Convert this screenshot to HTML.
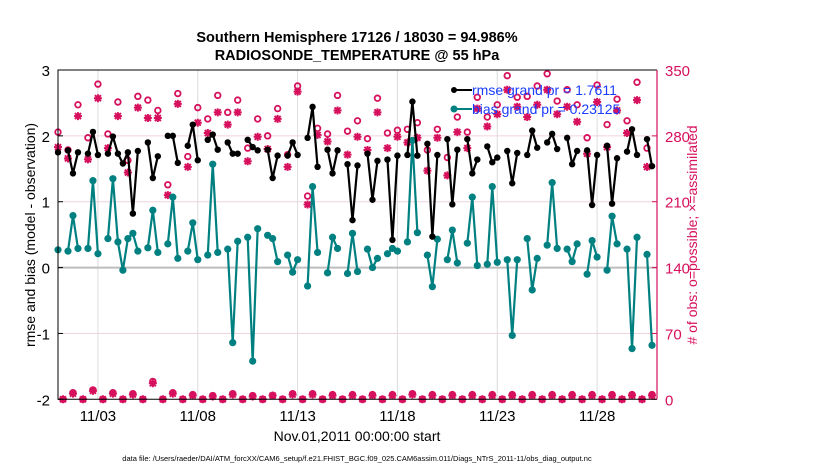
<!DOCTYPE html>
<html><head><meta charset="utf-8"><style>
body{margin:0;background:#fff;}
svg{display:block;font-family:"Liberation Sans",sans-serif;}
</style></head><body>
<svg id="chart" width="830" height="470" viewBox="0 0 830 470">
<g id="grid"></g>
<g id="marks"></g>
<g id="axes"></g>
<text x="357" y="42" text-anchor="middle" font-size="14.5" font-weight="bold">Southern Hemisphere 17126 / 18030 = 94.986%</text>
<text x="357" y="60" text-anchor="middle" font-size="14.5" font-weight="bold">RADIOSONDE_TEMPERATURE @ 55 hPa</text>
<text transform="translate(35,235) rotate(-90)" text-anchor="middle" font-size="14">rmse and bias (model - observation)</text>
<text transform="translate(697,235) rotate(-90)" text-anchor="middle" font-size="14" fill="#d6105c"># of obs: o=possible; ×=assimilated</text>
<text x="357" y="441" text-anchor="middle" font-size="14">Nov.01,2011 00:00:00 start</text>
<text x="357" y="461" text-anchor="middle" font-size="7.5">data file: /Users/raeder/DAI/ATM_forcXX/CAM6_setup/f.e21.FHIST_BGC.f09_025.CAM6assim.011/Diags_NTrS_2011-11/obs_diag_output.nc</text>
<g>
<line x1="452" y1="90" x2="472" y2="90" stroke="#000" stroke-width="2"/><circle cx="454" cy="90" r="3" fill="#000"/>
<text x="472" y="95" font-size="14" fill="#1a3cff">rmse grand pr = 1.7611</text>
<line x1="452" y1="109" x2="472" y2="109" stroke="#008080" stroke-width="2"/><circle cx="454" cy="109" r="3.5" fill="#008080"/>
<text x="472" y="114" font-size="14" fill="#1a3cff">bias grand pr = 0.23125</text>
</g>
</svg>
<script>
const N=null;
const rmse=[1.75,N,1.78,1.43,1.75,N,1.73,2.06,1.71,N,1.73,1.99,1.73,1.58,1.75,0.82,1.77,N,1.90,1.36,1.69,N,2.0,2.0,1.59,N,1.85,2.17,1.63,N,1.94,2.02,1.79,N,1.90,1.73,1.73,N,1.94,1.83,1.78,N,1.79,1.36,1.70,N,1.70,1.90,1.71,N,1.97,2.44,1.53,N,1.79,1.43,1.78,N,1.57,0.72,1.55,N,1.73,1.03,1.62,N,1.64,0.42,1.70,N,1.71,2.52,1.70,N,1.88,0.47,1.71,N,1.95,0.96,1.79,N,1.95,1.43,1.64,N,1.84,1.60,1.67,N,1.77,1.28,1.74,N,1.71,2.08,1.82,N,1.90,2.03,1.80,N,1.97,1.57,1.77,N,1.78,0.95,1.71,N,1.85,0.97,1.66,N,1.76,2.10,1.71,N,1.95,1.54];
const bias=[.27,N,.25,.79,.29,N,.29,1.32,.21,N,.44,1.35,.39,-.04,.44,.52,.25,N,.30,.87,.23,N,.36,1.07,.14,N,.25,.68,.12,N,.19,1.57,.23,N,.28,-1.14,.40,N,.46,-1.42,.59,N,.49,.44,.09,N,.19,-.07,.12,N,-.28,1.23,.23,N,-.08,.46,.29,N,-.09,.52,-.06,N,.28,0.0,.14,N,.21,.29,.25,N,.39,1.93,.53,N,.19,-.29,.43,N,.12,.57,.07,N,.37,1.07,.03,N,.05,1.23,.08,N,.12,-1.03,.12,N,.44,-.34,.14,N,.34,1.29,.29,N,.28,.09,.36,N,-.10,.41,.16,N,-.04,.78,.36,N,.28,-1.23,.46,N,.20,-1.18];
const possible=[284,0,265,7,313,0,278,10,335,0,282,7,316,0,254,6,322,0,318,19,307,0,228,7,325,0,258,5,310,0,298,4,323,0,305,6,318,0,267,4,298,0,280,4,309,0,260,6,333,0,216,6,288,0,282,5,323,0,285,5,296,0,277,5,320,0,283,5,286,0,287,6,294,0,265,5,287,0,257,5,300,0,284,5,321,0,300,5,313,0,344,5,321,0,322,5,333,0,346,5,317,0,329,5,313,0,278,5,334,0,292,5,319,0,296,5,337,0,267,5];
const assimilated=[268,0,256,6,301,0,255,9,320,0,267,6,301,0,241,5,310,0,299,17,299,0,217,6,314,0,247,4,294,0,283,3,305,0,292,5,305,0,253,3,279,0,266,4,298,0,247,5,327,0,207,5,281,0,274,4,307,0,260,4,279,0,265,4,305,0,267,4,279,0,273,5,278,0,243,4,278,0,238,4,284,0,267,4,309,0,290,4,303,0,329,4,311,0,300,4,313,0,329,4,303,0,311,4,295,0,261,4,316,0,268,4,307,0,283,4,318,0,247,4];
const leftTicks=[3,2,1,0,-1,-2];
const rightTicks=[0,70,140,210,280,350];
const dateTicks=["11/03","11/08","11/13","11/18","11/23","11/28"];
const dateTickDays=[2,7,12,17,22,27];

const X0=58,X1=657,Y0=70,Y1=399.3;
const xDay=d=>X0+(X1-X0)*d/30;
const xIdx=i=>xDay(i*0.25);
const yL=v=>Y1-(v+2)*(Y1-Y0)/5;
const yR=c=>Y1-c*(Y1-Y0)/350;
const NS="http://www.w3.org/2000/svg";
function mk(tag,attrs,parent){const e=document.createElementNS(NS,tag);for(const k in attrs)e.setAttribute(k,attrs[k]);parent.appendChild(e);return e;}
const grid=document.getElementById('grid'),marks=document.getElementById('marks'),axes=document.getElementById('axes');

leftTicks.forEach(v=>{
  const y=yL(v);
  if(v!==0&&v!==3&&v!==-2){const l=mk('line',{x1:X0,x2:X1,y1:y,y2:y,stroke:'#f0d4de','stroke-width':1},grid);
  
  }
  const t=mk('text',{x:X0-8,y:y+6,'text-anchor':'end','font-size':15},axes);t.textContent=v;
  
  
  mk('line',{x1:X0,x2:X0+5,y1:y,y2:y,stroke:'#000'},axes);
});
rightTicks.forEach(c=>{
  const y=yR(c);
  const t=mk('text',{x:X1+8,y:y+6,'font-size':15,fill:'#d6105c'},axes);t.textContent=c;
  
  
  mk('line',{x1:X1-5,x2:X1,y1:y,y2:y,stroke:'#d6105c'},axes);
});
dateTicks.forEach((lab,k)=>{
  const x=xDay(dateTickDays[k]);
  const g=mk('line',{x1:x,x2:x,y1:Y0,y2:Y1,stroke:'#dcdcdc'},grid);
  
  
  const t=mk('text',{x:x,y:421,'text-anchor':'middle','font-size':15},axes);t.textContent=lab;
  
  
});
const zl=mk('line',{x1:X0,x2:X1,y1:yL(0),y2:yL(0),stroke:'#bdbdbd','stroke-width':2},grid);



// counts
const mag='#d6105c';
possible.forEach((c,i)=>{
  const e=mk('circle',{cx:xIdx(i),cy:yR(c),r:2.8,fill:'none',stroke:mag,'stroke-width':1.8},marks);
  
  
});
assimilated.forEach((c,i)=>{
  const x=xIdx(i),y=yR(c),s=4;
  const e=mk('path',{d:`M${x-s} ${y}H${x+s}M${x} ${y-s}V${y+s}M${x-3} ${y-3}L${x+3} ${y+3}M${x-3} ${y+3}L${x+3} ${y-3}`,stroke:mag,'stroke-width':2},marks);
  
  
});
function series(arr,col,r,name){
  let d='',pen=false;
  arr.forEach((v,i)=>{if(v===null){pen=false;return;}d+=(pen?'L':'M')+xIdx(i)+' '+yL(v);pen=true;});
  const p=mk('path',{d:d,fill:'none',stroke:col,'stroke-width':2.2,'stroke-linejoin':'round'},marks);
  
  
  arr.forEach((v,i)=>{if(v===null)return;
    const c=mk('circle',{cx:xIdx(i),cy:yL(v),r:r,fill:col},marks);
    
    });
}
series(bias,'#008080',3.6,'bias');
series(rmse,'#000',3.2,'rmse');

mk('path',{d:`M${X1} ${Y0}H${X0}V${Y1}H${X1}`,fill:'none',stroke:'#000','stroke-width':1},axes);
mk('line',{x1:X1,x2:X1,y1:Y0,y2:Y1,stroke:mag,'stroke-width':1.2},axes);
</script>
</body></html>
